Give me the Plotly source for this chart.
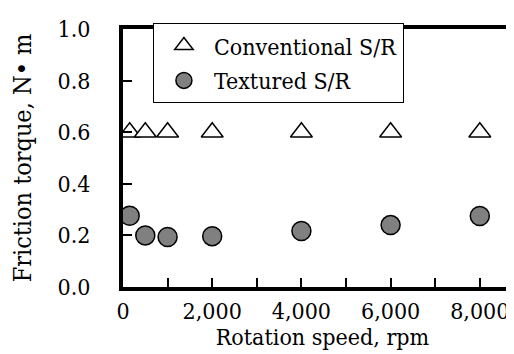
import plotly.graph_objects as go

speed_conv = [150, 500, 1000, 2000, 4000, 6000, 8000]
torque_conv = [0.60, 0.60, 0.60, 0.60, 0.60, 0.60, 0.60]
speed_tex = [150, 500, 1000, 2000, 4000, 6000, 8000]
torque_tex = [0.276, 0.200, 0.194, 0.197, 0.217, 0.240, 0.275]

x_tickvals = [0, 1000, 2000, 3000, 4000, 5000, 6000, 7000, 8000]
x_ticktext = ["0", "", "2,000", "", "4,000", "", "6,000", "", "8,000"]
y_tickvals = [0.0, 0.2, 0.4, 0.6, 0.8, 1.0]
y_ticktext = ["0.0", "0.2", "0.4", "0.6", "0.8", "1.0"]

FONT = "'DejaVu Serif Condensed', 'DejaVu Serif', serif"
FS = 23

fig = go.Figure()
fig.add_trace(go.Scatter(
    x=speed_conv, y=torque_conv, mode="markers", name="Conventional S/R",
    legendgroup="a",
    marker=dict(symbol="triangle-up", size=19, color="white",
                line=dict(color="black", width=1.5)),
))
fig.add_trace(go.Scatter(
    x=speed_tex, y=torque_tex, mode="markers", name="Textured S/R",
    legendgroup="b",
    marker=dict(symbol="circle", size=19, color="#808080",
                line=dict(color="black", width=1.5)),
))

fig.update_layout(
    width=514, height=354,
    margin=dict(l=115, r=0, t=21, b=75, autoexpand=False),
    paper_bgcolor="white", plot_bgcolor="white",
    font=dict(family=FONT, size=FS, color="black"),
    showlegend=True,
    legend=dict(x=0.075, y=1.023, xanchor="left", yanchor="top",
                bgcolor="white", bordercolor="black", borderwidth=1,
                itemwidth=50, tracegroupgap=2, traceorder="grouped",
                font=dict(family=FONT, size=FS, color="black")),
)
fig.update_xaxes(
    range=[0, 8946], tickvals=x_tickvals, ticktext=x_ticktext,
    ticks="inside", ticklen=9, tickwidth=2, tickcolor="black",
    showline=True, linecolor="black", linewidth=4, mirror=True,
    showgrid=False, zeroline=False, automargin=False,
    tickfont=dict(family=FONT, size=FS, color="black"),
    ticklabelstandoff=0,
    title=dict(text="Rotation speed, rpm", font=dict(family=FONT, size=FS), standoff=0),
)
fig.update_yaxes(
    range=[0, 1.0], tickvals=y_tickvals, ticktext=y_ticktext,
    ticks="inside", ticklen=9, tickwidth=2, tickcolor="black",
    showline=True, linecolor="black", linewidth=4, mirror=False,
    showgrid=False, zeroline=False, automargin=False,
    tickfont=dict(family=FONT, size=FS, color="black"),
    ticklabelstandoff=24,
    title=dict(text="Friction torque, N\u2022 m", font=dict(family=FONT, size=25), standoff=22),
)

fig.write_html("out.html")
